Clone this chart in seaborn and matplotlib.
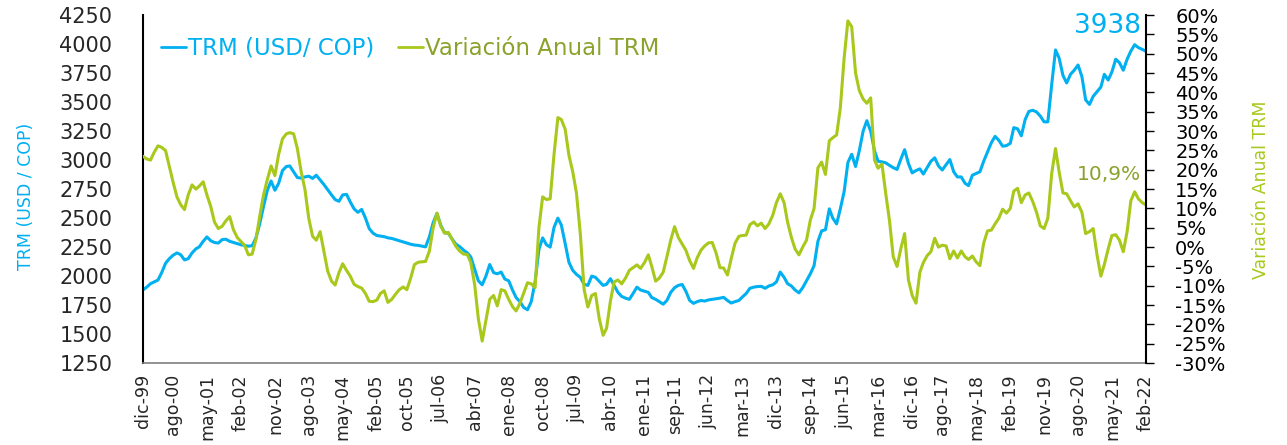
import matplotlib
matplotlib.use("Agg")
import pandas as pd
import numpy as np
import matplotlib.pyplot as plt
import seaborn as sns

# TRM mensual (USD/COP), dic-99 a feb-22
trm = [1880,
       1905, 1935, 1950, 1966, 2030, 2110, 2150, 2180, 2200, 2185, 2140, 2150,
       2200, 2235, 2253, 2300, 2338, 2305, 2290, 2285, 2315, 2318, 2300, 2290,
       2280, 2270, 2265, 2258, 2262, 2330, 2450, 2600, 2740, 2820, 2740, 2800,
       2910, 2945, 2950, 2900, 2850, 2845, 2855, 2862, 2842, 2870, 2830, 2790,
       2745, 2700, 2660, 2645, 2700, 2705, 2640, 2580, 2550, 2575, 2500, 2410,
       2370, 2350, 2345, 2340, 2330, 2325, 2315, 2305, 2295, 2285, 2275, 2268,
       2265, 2258, 2252, 2340, 2460, 2540, 2440, 2375, 2370, 2320, 2275, 2255,
       2225, 2200, 2165, 2060, 1960, 1925, 2000, 2100, 2030, 2020, 2035, 1975,
       1960, 1880, 1815, 1780, 1730, 1710, 1780, 1950, 2230, 2330, 2270, 2250,
       2420, 2500, 2440, 2280, 2120, 2050, 2015, 1990, 1930, 1920, 2000, 1990,
       1955, 1920, 1930, 1978, 1920, 1860, 1825, 1810, 1800, 1850, 1905, 1880,
       1870, 1860, 1815, 1800, 1780, 1758, 1790, 1860, 1900, 1920, 1928, 1870,
       1790, 1765, 1780, 1790, 1785, 1795, 1800, 1805, 1810, 1817, 1790, 1768,
       1780, 1790, 1820, 1850, 1895, 1905, 1910, 1912, 1895, 1915, 1925, 1950,
       2035, 1990, 1935, 1915, 1880, 1856, 1900, 1960, 2020, 2090, 2300, 2390,
       2400, 2580, 2500, 2450, 2580, 2730, 2980, 3050, 2945, 3080, 3250, 3340,
       3250, 3080, 2990, 2985, 2977, 2955, 2935, 2920, 3010, 3090, 2970, 2890,
       2910, 2925, 2880, 2935, 2990, 3020, 2950, 2915, 2960, 3005, 2900, 2855,
       2855, 2800, 2780, 2870, 2885, 2900, 2990, 3070, 3150, 3205, 3170, 3120,
       3125, 3145, 3280, 3270, 3210, 3350, 3420, 3430, 3415, 3380, 3330, 3330,
       3650, 3950, 3880, 3730, 3665, 3740, 3775, 3820, 3720, 3520, 3480, 3550,
       3590, 3630, 3740, 3690, 3760, 3870, 3840, 3775, 3870, 3940, 3995, 3970,
       3955, 3938]

# Variación anual TRM (%)
var_anual = [23.5,
             22.8, 22.5, 24.5, 26.2, 25.8, 25.0, 21.0, 16.8, 13.0, 11.0, 9.7, 13.5,
             16.1, 15.0, 15.8, 16.9, 13.5, 10.5, 6.5, 4.8, 5.4, 6.8, 7.9, 4.5,
             2.5, 1.4, 0.5, -2.0, -1.8, 2.0, 7.9, 13.5, 17.5, 21.0, 18.5, 24.0,
             28.0, 29.3, 29.6, 29.3, 25.5, 19.5, 15.0, 7.5, 2.8, 1.8, 4.0, -1.0,
             -6.2, -8.8, -9.8, -6.6, -4.3, -6.0, -7.5, -9.6, -10.2, -10.6, -12.0, -14.0,
             -14.1, -13.7, -12.0, -11.3, -14.3, -13.5, -12.2, -11.0, -10.3, -11.0, -8.0, -4.5,
             -3.9, -3.8, -3.7, -1.0, 5.0, 8.8, 5.5, 3.6, 3.8, 2.0, 0.2, -1.0,
             -1.8, -1.9, -4.0, -9.6, -18.5, -24.3, -19.0, -13.5, -12.5, -15.2, -11.0, -11.3,
             -13.5, -15.4, -16.5, -14.5, -11.9, -9.2, -9.5, -10.5, 5.0, 13.0, 12.3, 12.5,
             24.0, 33.5, 33.0, 30.5, 23.8, 19.5, 14.0, 3.5, -11.0, -15.5, -12.5, -12.0,
             -18.5, -22.8, -21.0, -14.0, -9.0, -8.5, -9.5, -8.0, -6.0, -5.3, -4.6, -5.5,
             -4.0, -2.0, -5.0, -8.8, -8.0, -6.5, -2.5, 1.8, 5.3, 2.5, 0.8, -0.8,
             -3.5, -5.5, -2.8, -0.8, 0.3, 1.1, 1.2, -1.5, -5.3, -5.4, -7.2, -3.0,
             1.0, 2.8, 3.0, 3.1, 5.8, 6.5, 5.5, 6.2, 4.8, 6.0, 8.2, 11.5,
             13.8, 11.5, 6.5, 2.5, -0.5, -2.0, 0.0, 1.8, 7.0, 10.0, 20.5, 22.0,
             18.8, 27.5, 28.3, 29.0, 36.0, 49.0, 58.5, 57.0, 45.0, 40.5, 38.3, 37.2,
             38.6, 22.5, 20.4, 21.5, 14.0, 6.8, -2.5, -5.0, -0.3, 3.5, -8.5, -12.5,
             -14.5, -6.5, -4.0, -2.2, -1.2, 2.3, 0.0, 0.5, 0.3, -3.0, -1.0, -2.8,
             -1.0, -2.5, -3.2, -2.3, -3.8, -4.8, 1.0, 4.2, 4.4, 6.0, 7.5, 9.8,
             8.8, 10.0, 14.5, 15.2, 11.5, 13.5, 14.0, 11.8, 9.0, 5.5, 4.8, 7.5,
             19.0, 25.5, 19.5, 14.0, 13.8, 12.0, 10.4, 11.2, 9.0, 3.5, 4.0, 4.8,
             -2.0, -7.5, -4.5, -0.5, 3.0, 3.2, 1.8, -1.2, 4.0, 12.0, 14.3, 12.5,
             11.5, 10.9]

etiquetas = ["dic-99", "ago-00", "may-01", "feb-02", "nov-02", "ago-03", "may-04",
             "feb-05", "oct-05", "jul-06", "abr-07", "ene-08", "oct-08", "jul-09",
             "abr-10", "ene-11", "sep-11", "jun-12", "mar-13", "dic-13", "sep-14",
             "jun-15", "mar-16", "dic-16", "ago-17", "may-18", "feb-19", "nov-19",
             "ago-20", "may-21", "feb-22"]

fechas = pd.date_range("1999-12-01", periods=len(trm), freq="MS")
meses = {"ene": 1, "feb": 2, "mar": 3, "abr": 4, "may": 5, "jun": 6,
         "jul": 7, "ago": 8, "sep": 9, "oct": 10, "nov": 11, "dic": 12}
fechas_tick = []
for e in etiquetas:
    yy = int(e[-2:])
    fechas_tick.append(pd.Timestamp(1900 + yy if yy > 50 else 2000 + yy, meses[e[:3]], 1))

AZUL = "#00B0F0"
VERDE = "#A8C81C"
OLIVA = "#8BA22C"

sns.set_style("white")
plt.rcParams["font.family"] = ["DejaVu Sans"]

fig, ax = plt.subplots(figsize=(12.87, 4.45), dpi=100)
fig.subplots_adjust(left=0.111, right=0.8905, bottom=0.184, top=0.966)
ax2 = ax.twinx()

sns.lineplot(x=fechas, y=var_anual, ax=ax2, color=VERDE, linewidth=2.2, legend=False)
sns.lineplot(x=fechas, y=trm, ax=ax, color=AZUL, linewidth=2.2, legend=False)

ax.set_xlim(fechas[0], fechas[-1])
ax.set_ylim(1250, 4250)
ax.set_yticks(range(1250, 4251, 250))
ax2.set_ylim(-30, 60)
ax2.set_yticks(range(-30, 61, 5))
ax2.set_yticklabels([f"{v}%" for v in range(-30, 61, 5)])

ax.set_xticks(fechas_tick)
ax.set_xticklabels(etiquetas, rotation=90, fontsize=12.5)
ax.tick_params(axis="x", length=0, pad=8)
ax.tick_params(axis="y", length=0, pad=22, labelsize=15)
ax2.tick_params(axis="y", length=6, width=1, direction="out", pad=15, labelsize=14, colors="black")

ax.spines["top"].set_visible(False)
ax2.spines["top"].set_visible(False)
ax.spines["left"].set_color("black")
ax.spines["left"].set_linewidth(1.5)
ax.spines["bottom"].set_color("#7f7f7f")
ax.spines["bottom"].set_linewidth(1.2)
ax2.spines["right"].set_color("black")
ax2.spines["right"].set_linewidth(1.5)
ax2.spines["bottom"].set_visible(False)
ax2.spines["left"].set_visible(False)
ax.spines["right"].set_visible(False)

ax.set_xlabel("")
ax.set_ylabel("TRM (USD / COP)", color=AZUL, fontsize=12.5)
ax.yaxis.set_label_coords(-0.108, 0.48)
ax2.set_ylabel("Variación Anual TRM", color=VERDE, fontsize=12.5, rotation=90)
ax2.yaxis.set_label_coords(1.106, 0.497)

h1 = plt.Line2D([], [], color=AZUL, linewidth=2)
h2 = plt.Line2D([], [], color=VERDE, linewidth=2)
leg = ax2.legend([h1, h2], ["TRM (USD/ COP)", "Variación Anual TRM"], ncol=2,
                 loc="center left", bbox_to_anchor=(0.018, 0.905), frameon=False,
                 handlelength=1.1, handletextpad=0.1, columnspacing=1.0,
                 borderaxespad=0, borderpad=0, fontsize=16.5)
for t, c in zip(leg.get_texts(), [AZUL, OLIVA]):
    t.set_color(c)

ax2.text(0.995, 0.968, "3938", transform=ax2.transAxes, ha="right", va="center",
         color=AZUL, fontsize=19)
ax2.text(0.995, 0.543, "10,9%", transform=ax2.transAxes, ha="right", va="center",
         color=OLIVA, fontsize=14.5)

fig.savefig("out.png", dpi=100)
